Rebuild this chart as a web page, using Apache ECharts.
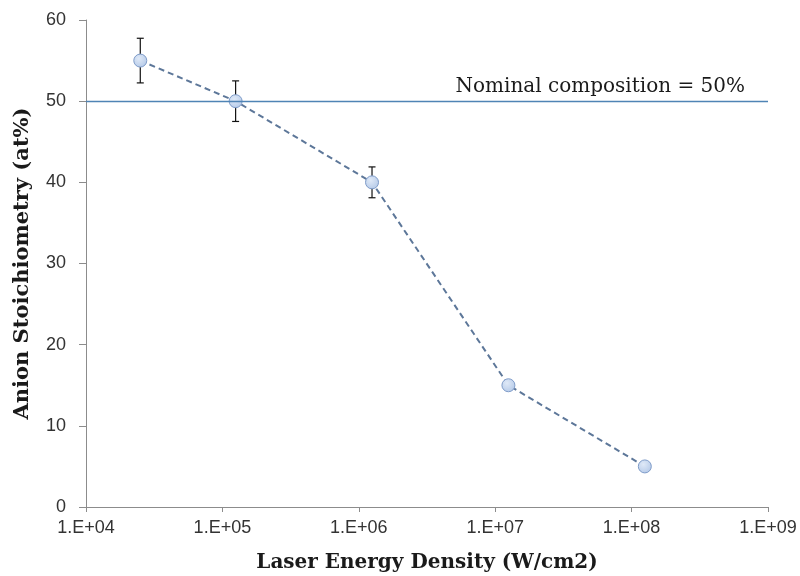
<!DOCTYPE html>
<html><head><meta charset="utf-8">
<script src="https://cdn.jsdelivr.net/npm/echarts@6/dist/echarts.min.js"></script>
<style>html,body{margin:0;padding:0;background:#fff}#c{width:800px;height:576px}</style>
</head><body><div id="c"></div>
<script>
const energy = [2.5e4, 1.25e5, 1.25e6, 1.25e7, 1.25e8];
const stoich = [55, 50, 40, 15, 5];
const errBar = [2.75, 2.5, 1.9, 0.5, 0.4];
const nominal = 50;
const nominalLabel = 'Nominal composition = 50%';
const xName = 'Laser Energy Density (W/cm2)';
const yName = 'Anion Stoichiometry (at%)';

const chart = echarts.init(document.getElementById('c'));
const serif = '"DejaVu Serif", "Liberation Serif", serif';
const sans = '"Liberation Sans", Arial, sans-serif';
chart.setOption({
  animation: false,
  grid: {left: 86, right: 32, top: 20, bottom: 69, containLabel: false, outerBoundsMode: 'none'},
  xAxis: {
    type: 'log', logBase: 10, min: 1e4, max: 1e9,
    name: xName, nameLocation: 'middle', nameGap: 46,
    nameTextStyle: {fontFamily: serif, fontWeight: 'bold', fontSize: 20, color: '#1a1a1a'},
    axisLine: {lineStyle: {color: '#8c8c8c', width: 1}},
    axisTick: {show: true, length: 5, inside: false, lineStyle: {color: '#8c8c8c'}},
    splitLine: {show: false},
    minorTick: {show: false},
    axisLabel: {fontFamily: sans, fontSize: 18, color: '#333', margin: 12,
      formatter: v => '1.E+' + String(Math.round(Math.log10(v))).padStart(2, '0')}
  },
  yAxis: {
    type: 'value', min: 0, max: 60, interval: 10,
    name: yName, nameLocation: 'middle', nameGap: 53, nameRotate: 90,
    nameTextStyle: {fontFamily: serif, fontWeight: 'bold', fontSize: 21, color: '#1a1a1a'},
    axisLine: {show: true, lineStyle: {color: '#8c8c8c', width: 1}},
    axisTick: {show: true, length: 7, lineStyle: {color: '#8c8c8c'}},
    splitLine: {show: false},
    axisLabel: {fontFamily: sans, fontSize: 18, color: '#333', margin: 20}
  },
  series: [
    {
      type: 'custom',
      data: energy.map((x, i) => [x, stoich[i] - errBar[i], stoich[i] + errBar[i]]),
      renderItem: function (params, api) {
        const lo = api.coord([api.value(0), api.value(1)]);
        const hi = api.coord([api.value(0), api.value(2)]);
        const w = 3.5;
        const st = {stroke: '#111', lineWidth: 1.2};
        return {type: 'group', children: [
          {type: 'line', shape: {x1: lo[0], y1: lo[1], x2: hi[0], y2: hi[1]}, style: st},
          {type: 'line', shape: {x1: lo[0] - w, y1: lo[1], x2: lo[0] + w, y2: lo[1]}, style: st},
          {type: 'line', shape: {x1: hi[0] - w, y1: hi[1], x2: hi[0] + w, y2: hi[1]}, style: st}
        ]};
      },
      z: 2
    },
    {
      type: 'line',
      data: energy.map((x, i) => [x, stoich[i]]),
      symbol: 'circle', symbolSize: 13,
      lineStyle: {color: '#5d7799', width: 2, type: [6, 4]},
      itemStyle: {
        color: new echarts.graphic.RadialGradient(0.4, 0.35, 0.7, [
          {offset: 0, color: '#dfe9f7'}, {offset: 1, color: '#b4c9e8'}]),
        borderColor: '#7e9bc8', borderWidth: 1
      },
      z: 3,
      markLine: {
        silent: true, symbol: 'none',
        lineStyle: {color: '#4f84b5', width: 1.3, type: 'solid', opacity: 1},
        label: {show: true, position: 'insideEndTop', formatter: nominalLabel,
          fontFamily: serif, fontSize: 20, color: '#1a1a1a', distance: [23, 4]},
        data: [{yAxis: nominal}]
      }
    }
  ]
});
</script></body></html>
